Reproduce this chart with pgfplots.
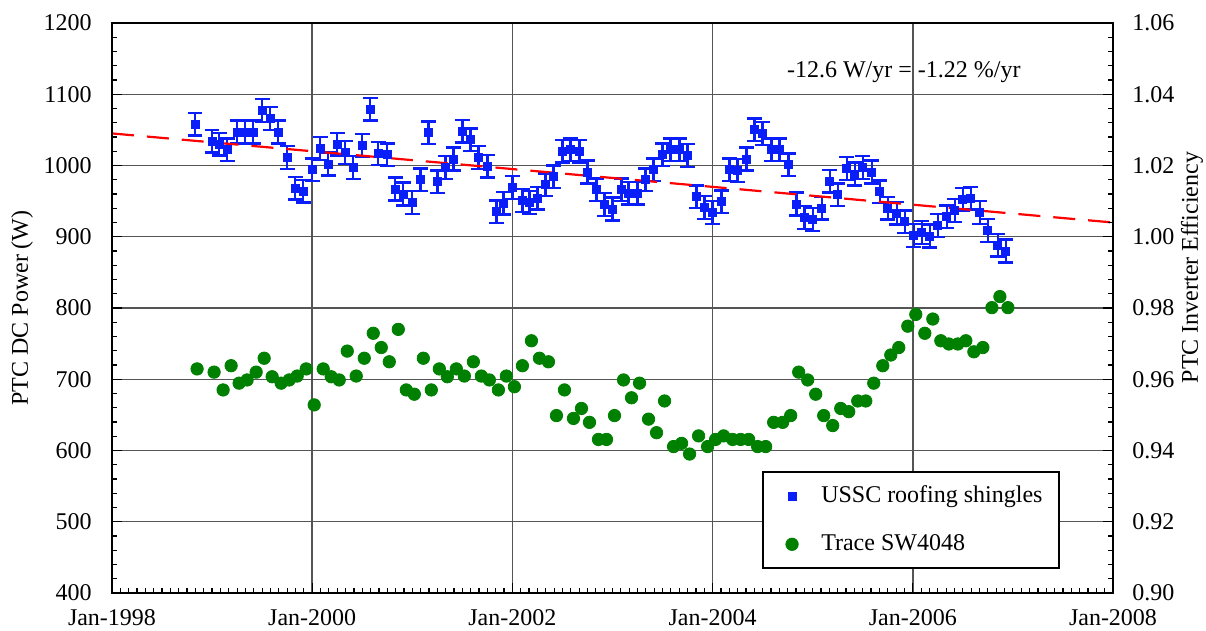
\documentclass[12pt,border=0pt]{standalone}
\usepackage{fontspec}
\setmainfont{Liberation Serif}
\usepackage{pgfplots}
\pgfplotsset{compat=1.18}
\definecolor{ptblue}{RGB}{10,30,250}
\definecolor{ptgreen}{RGB}{0,128,0}
\definecolor{gridgray}{RGB}{85,85,85}
\pgfplotstableread{
x w
1998.83 1058
1999.00 1034
1999.07 1030
1999.15 1022
1999.25 1047
1999.33 1047
1999.41 1047
1999.50 1077
1999.58 1066
1999.66 1047
1999.75 1011
1999.83 968
1999.91 964
2000.00 994
2000.08 1024
2000.16 1002
2000.25 1030
2000.33 1018
2000.41 997
2000.50 1028
2000.58 1079
2000.66 1017
2000.75 1015
2000.83 967
2000.91 960
2001.00 948
2001.08 980
2001.16 1046
2001.25 977
2001.33 997
2001.41 1009
2001.50 1048
2001.58 1036
2001.66 1011
2001.75 999
2001.84 935
2001.91 947
2002.00 969
2002.10 951
2002.17 948
2002.25 954
2002.33 973
2002.41 984
2002.50 1020
2002.58 1022
2002.67 1020
2002.75 991
2002.84 966
2002.92 945
2003.00 939
2003.09 966
2003.16 961
2003.25 961
2003.33 980
2003.41 994
2003.50 1015
2003.58 1022
2003.67 1022
2003.75 1014
2003.84 956
2003.92 941
2004.00 934
2004.09 949
2004.17 994
2004.25 993
2004.34 1009
2004.42 1050
2004.50 1045
2004.59 1022
2004.67 1022
2004.76 1001
2004.84 946
2004.92 927
2005.00 924
2005.09 940
2005.17 978
2005.25 959
2005.34 996
2005.42 988
2005.50 997
2005.59 991
2005.67 963
2005.75 940
2005.84 933
2005.92 921
2006.01 902
2006.09 906
2006.17 901
2006.25 916
2006.34 928
2006.42 937
2006.50 952
2006.58 954
2006.67 934
2006.75 909
2006.85 888
2006.93 880
}\ussc
\pgfplotstableread{
x e
1998.85 0.9629
1999.02 0.9620
1999.11 0.9570
1999.19 0.9638
1999.27 0.9589
1999.35 0.9598
1999.44 0.9620
1999.52 0.9659
1999.60 0.9607
1999.69 0.9589
1999.77 0.9598
1999.85 0.9609
1999.94 0.9629
2000.02 0.9528
2000.11 0.9629
2000.19 0.9607
2000.27 0.9598
2000.35 0.9679
2000.44 0.9609
2000.52 0.9659
2000.61 0.9729
2000.69 0.9689
2000.77 0.9649
2000.86 0.9740
2000.94 0.9570
2001.02 0.9558
2001.11 0.9659
2001.19 0.9570
2001.27 0.9629
2001.35 0.9607
2001.44 0.9629
2001.52 0.9609
2001.61 0.9649
2001.69 0.9609
2001.77 0.9598
2001.86 0.9570
2001.94 0.9609
2002.02 0.9579
2002.10 0.9638
2002.19 0.9708
2002.27 0.9659
2002.36 0.9649
2002.44 0.9498
2002.52 0.9570
2002.61 0.9490
2002.69 0.9518
2002.77 0.9479
2002.86 0.9431
2002.94 0.9431
2003.02 0.9498
2003.11 0.9598
2003.19 0.9548
2003.27 0.9589
2003.36 0.9488
2003.44 0.9450
2003.52 0.9539
2003.61 0.9411
2003.69 0.9420
2003.77 0.9390
2003.86 0.9441
2003.95 0.9411
2004.03 0.9431
2004.11 0.9441
2004.20 0.9431
2004.28 0.9431
2004.36 0.9431
2004.45 0.9411
2004.53 0.9411
2004.61 0.9479
2004.70 0.9479
2004.78 0.9498
2004.86 0.9620
2004.95 0.9598
2005.03 0.9558
2005.11 0.9498
2005.20 0.9470
2005.28 0.9518
2005.36 0.9509
2005.45 0.9539
2005.53 0.9539
2005.61 0.9589
2005.70 0.9638
2005.78 0.9668
2005.86 0.9689
2005.95 0.9749
2006.03 0.9782
2006.12 0.9729
2006.20 0.9769
2006.28 0.9708
2006.36 0.9699
2006.45 0.9699
2006.53 0.9708
2006.61 0.9677
2006.70 0.9689
2006.79 0.9801
2006.87 0.9832
2006.95 0.9801
}\trace
\begin{document}
\begin{tikzpicture}
\pgfplotsset{
  common/.style={
    scale only axis, width=500.5pt, height=285pt,
    xmin=1998, xmax=2008,
    tick align=inside,
    axis line style={line width=1pt},
    every tick/.style={black, line width=0.6pt},
    major tick length=5pt, minor tick length=2.6pt,
    /pgf/number format/assume math mode=true,
    /pgf/number format/1000 sep={},
  }
}
\begin{axis}[common,
  ymin=400, ymax=1200,
  xtick={1998,2000,2002,2004,2006,2008},
  xticklabels={Jan-1998,Jan-2000,Jan-2002,Jan-2004,Jan-2006,Jan-2008},
  minor x tick num=23,
  ytick={400,500,600,700,800,900,1000,1100,1200},
  minor y tick num=4,
  xtick pos=bottom, ytick pos=left,
  xmajorgrids, ymajorgrids,
  grid style={gridgray, line width=0.7pt},
  yticklabel style={xshift=-6pt},
  xticklabel style={yshift=-4pt},
  ylabel={PTC DC Power (W)},
  ylabel style={at={(axis description cs:-0.0899,0.5)}, anchor=center},
]
\coordinate (sw) at (rel axis cs:0,0);
\addplot[only marks, mark=square*, mark size=2pt, color=ptblue, line width=0.4pt,
  error bars/.cd, y dir=both, y fixed=16,
  error bar style={line width=1.2pt, ptblue},
  error mark options={rotate=90, mark size=3.7pt, line width=1.2pt, ptblue}]
  table[x=x, y=w] {\ussc};
\addplot[red, line width=1.1pt, dash pattern=on 11pt off 6.5pt] coordinates {(1998,1045) (2008,920)};
\node at (axis cs:2005.91,1131.6) {-12.6 W/yr = -1.22 \%/yr};
\end{axis}
\begin{axis}[common,
  ymin=0.90, ymax=1.06,
  xtick=\empty,
  ytick={0.90,0.92,0.94,0.96,0.98,1.00,1.02,1.04,1.06},
  minor y tick num=4,
  ytick pos=right, yticklabel pos=right,
  yticklabel style={/pgf/number format/.cd, fixed, fixed zerofill, precision=2, /tikz/.cd, xshift=5.5pt},
  ylabel={PTC Inverter Efficiency},
  ylabel style={at={(axis description cs:1.0789,0.571)}, anchor=center},
  legend style={at={(0.6492,0.042)}, anchor=south west, draw=black, line width=1pt, fill=white,
    inner xsep=6pt, inner ysep=5pt, row sep=10pt, cells={anchor=west}},
  legend cell align=left,
  legend image code/.code={\path[draw=none,fill=none] (0pt,0pt) rectangle (21.2pt,0pt); \draw[#1] plot coordinates {(8.6pt,0pt)};},
]
\addlegendimage{only marks, mark=square*, mark size=2pt, color=ptblue, line width=0.4pt}
\addlegendentry{USSC roofing shingles\hspace{2.5pt}}
\addplot[only marks, mark=*, mark size=3.1pt, color=ptgreen, line width=0.4pt] table[x=x, y=e] {\trace};
\addlegendentry{Trace SW4048}
\end{axis}
\pgfresetboundingbox
\path[use as bounding box] (sw) ++(-56pt,-19pt) rectangle ++(603pt,315.5pt);
\end{tikzpicture}
\end{document}
